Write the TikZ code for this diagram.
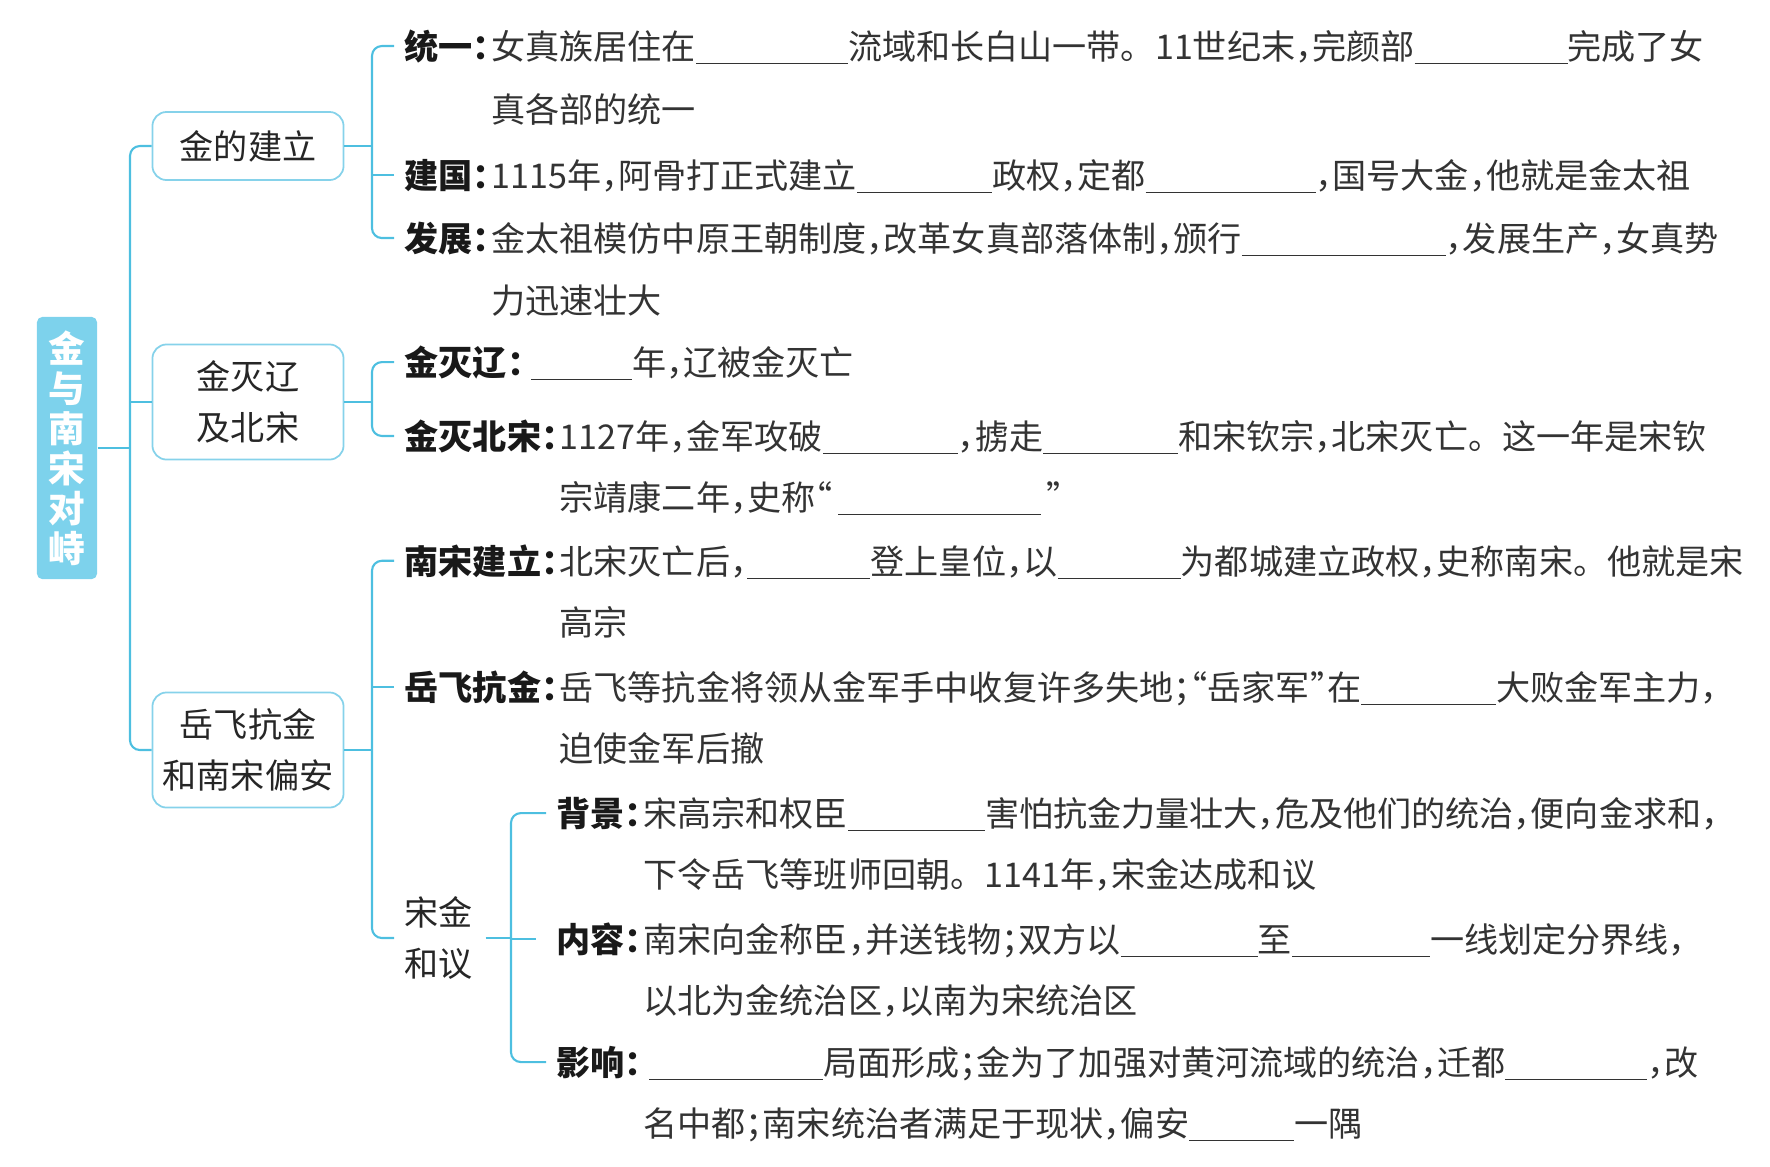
\documentclass[tikz,border=0pt]{standalone}
\usepackage{fontspec}
\usepackage{xcolor}
\usepackage{tikz}
\usetikzlibrary{positioning}
\newfontfamily\cjk{Noto Sans CJK SC}
\newfontfamily\cjkhalt[RawFeature=+halt]{Noto Sans CJK SC}
\definecolor{mapcyan}{HTML}{4DBFE0}
\definecolor{boxcyan}{HTML}{86D2EA}
\definecolor{rootcyan}{HTML}{7DD2EC}
\newdimen\pxu \pxu=0.01cm
\newcommand\fillin[1]{\rule[-1.5pt]{#1\pxu}{0.5pt}}
\newcommand\dou{{\cjkhalt ，}}
\newcommand\fen{{\cjkhalt ；}}
\newcommand\mao{{\cjkhalt ：}}
\newcommand\zuoyin{{\cjkhalt “}}
\newcommand\youyin{{\cjkhalt ”}}

\begin{document}
\begin{tikzpicture}[
      x=0.01cm, y=-0.01cm,
      font=\cjk\fontsize{9.7pt}{14.5pt}\selectfont,
      conn/.style={draw=mapcyan, line width=0.6pt, rounded corners=2.8pt},
      rootbox/.style={fill=rootcyan, rounded corners=1.5pt, text=white, align=center,
                      minimum width=0.6cm, minimum height=2.62cm, inner sep=0pt,
                      font=\cjk\bfseries\fontsize{10.4pt}{11.4pt}\selectfont},
      topic/.style={draw=boxcyan, line width=0.5pt, rounded corners=4pt, align=center,
                    minimum width=1.91cm, inner sep=0pt, text=black!85},
      lbl/.style={anchor=base west, inner sep=0pt, text=black!90,
                  font=\cjk\bfseries\fontsize{9.7pt}{14.5pt}\selectfont},
      txt/.style={anchor=base west, inner sep=0pt, text=black!80},
    ]
    \useasboundingbox (0,0) rectangle (1770,1166);

    % --- root and the three topic boxes --------------------------------------------
    \node[rootbox] (root) at (67,448) {金\\与\\南\\宋\\对\\峙};
    \node[topic, minimum height=0.68cm] (jianli) at (248,146) {金的建立};
    \node[topic, minimum height=1.15cm] (mieliao) at (248,402) {金灭辽\\及北宋};
    \node[topic, minimum height=1.15cm] (yuefei) at (248,750) {岳飞抗金\\和南宋偏安};

    \coordinate (rt) at (130,448);
    \draw[conn] (root.east) -- (rt);
    \draw[conn] (jianli.west) -| (rt) |- (yuefei.west);
    \draw[conn] (mieliao.west) -- (mieliao.west -| rt);

    % --- group 1: the founding of Jin ------------------------------------------------
    \node[lbl] (tongyi) at (404,59) {统一\mao};
    \node[txt] (tongyi-a) at (tongyi.base east) {女真族居住在\fillin{152}流域和长白山一带。11世纪末\dou 完颜部\fillin{153}完成了女};
    \node[txt] (tongyi-b) at ([yshift=-6.3mm]tongyi-a.base west) {真各部的统一};
    \node[lbl] (jianguo) at (404,188) {建国\mao};
    \node[txt] (jianguo-a) at (jianguo.base east) {1115年\dou 阿骨打正式建立\fillin{135}政权\dou 定都\fillin{170}\dou 国号大金\dou 他就是金太祖};
    \node[lbl] (fazhan) at (404,251) {发展\mao};
    \node[txt] (fazhan-a) at (fazhan.base east) {金太祖模仿中原王朝制度\dou 改革女真部落体制\dou 颁行\fillin{204}\dou 发展生产\dou 女真势};
    \node[txt] (fazhan-b) at ([yshift=-6.2mm]fazhan-a.base west) {力迅速壮大};

    \coordinate (jt) at (372,146);
    \draw[conn] (jianli.east) -- (jt);
    \draw[conn] ([xshift=-1mm]tongyi.west) -| (jt) |- ([xshift=-1mm]fazhan.west);
    \draw[conn] ([xshift=-1mm]jianguo.west) -- (jianguo.west -| jt);

    % --- group 2: Jin destroys Liao and Northern Song --------------------------------
    \node[lbl] (liao) at (404,375) {金灭辽\mao};
    \node[txt] (liao-a) at (liao.base east) {\,\fillin{101}年\dou 辽被金灭亡};
    \node[lbl] (beisong) at (404,449) {金灭北宋\mao};
    \node[txt] (beisong-a) at (beisong.base east) {1127年\dou 金军攻破\fillin{135}\dou 掳走\fillin{135}和宋钦宗\dou 北宋灭亡。这一年是宋钦};
    \node[txt] (beisong-b) at ([yshift=-6.1mm]beisong-a.base west) {宗靖康二年\dou 史称\zuoyin\,\fillin{203}\,\youyin};

    \coordinate (mt) at (372,402);
    \draw[conn] (mieliao.east) -- (mt);
    \draw[conn] ([xshift=-1mm]liao.west) -| (mt) |- ([xshift=-1mm]beisong.west);

    % --- group 3: Yue Fei and the Southern Song --------------------------------------
    \node[lbl] (nansong) at (404,574) {南宋建立\mao};
    \node[txt] (nansong-a) at (nansong.base east) {北宋灭亡后\dou\fillin{123}登上皇位\dou 以\fillin{123}为都城建立政权\dou 史称南宋。他就是宋};
    \node[txt] (nansong-b) at ([yshift=-6.1mm]nansong-a.base west) {高宗};
    \node[lbl] (kangjin) at (404,700) {岳飞抗金\mao};
    \node[txt] (kangjin-a) at (kangjin.base east) {岳飞等抗金将领从金军手中收复许多失地\fen\zuoyin 岳家军\youyin 在\fillin{135}大败金军主力\dou};
    \node[txt] (kangjin-b) at ([yshift=-6.1mm]kangjin-a.base west) {迫使金军后撤};
    \node[txt, anchor=west, align=left, text=black!85] (heyi) at (404,938) {宋金\\和议};

    \coordinate (yt) at (372,750);
    \draw[conn] (yuefei.east) -- (yt);
    \draw[conn] ([xshift=-1mm]nansong.west) -| (yt) |- ([xshift=-1mm]heyi.west);
    \draw[conn] ([xshift=-1mm]kangjin.west) -- (kangjin.west -| yt);

    % --- peace treaty: background, content, effect -----------------------------------
    \node[lbl] (beijing) at (556,826) {背景\mao};
    \node[txt] (beijing-a) at (beijing.base east) {宋高宗和权臣\fillin{137}害怕抗金力量壮大\dou 危及他们的统治\dou 便向金求和\dou};
    \node[txt] (beijing-b) at ([yshift=-6.1mm]beijing-a.base west) {下令岳飞等班师回朝。1141年\dou 宋金达成和议};
    \node[lbl] (neirong) at (556,952) {内容\mao};
    \node[txt] (neirong-a) at (neirong.base east) {南宋向金称臣\dou 并送钱物\fen 双方以\fillin{137}至\fillin{138}一线划定分界线\dou};
    \node[txt] (neirong-b) at ([yshift=-6.1mm]neirong-a.base west) {以北为金统治区\dou 以南为宋统治区};
    \node[lbl] (yingxiang) at (556,1075) {影响\mao};
    \node[txt] (yingxiang-a) at (yingxiang.base east) {\,\fillin{174}局面形成\fen 金为了加强对黄河流域的统治\dou 迁都\fillin{142}\dou 改};
    \node[txt] (yingxiang-b) at ([yshift=-6.1mm]yingxiang-a.base west) {名中都\fen 南宋统治者满足于现状\dou 偏安\fillin{105}一隅};

    \coordinate (ht) at (511,938);
    \draw[conn] ([xshift=1.2mm]heyi.east) -- (ht);
    \draw[conn] ([xshift=-1mm]beijing.west) -| (ht) |- ([xshift=-1mm]yingxiang.west);
    \draw[conn] ([xshift=-2mm]neirong.west) -- (neirong.west -| ht);
  \end{tikzpicture}
\end{document}
